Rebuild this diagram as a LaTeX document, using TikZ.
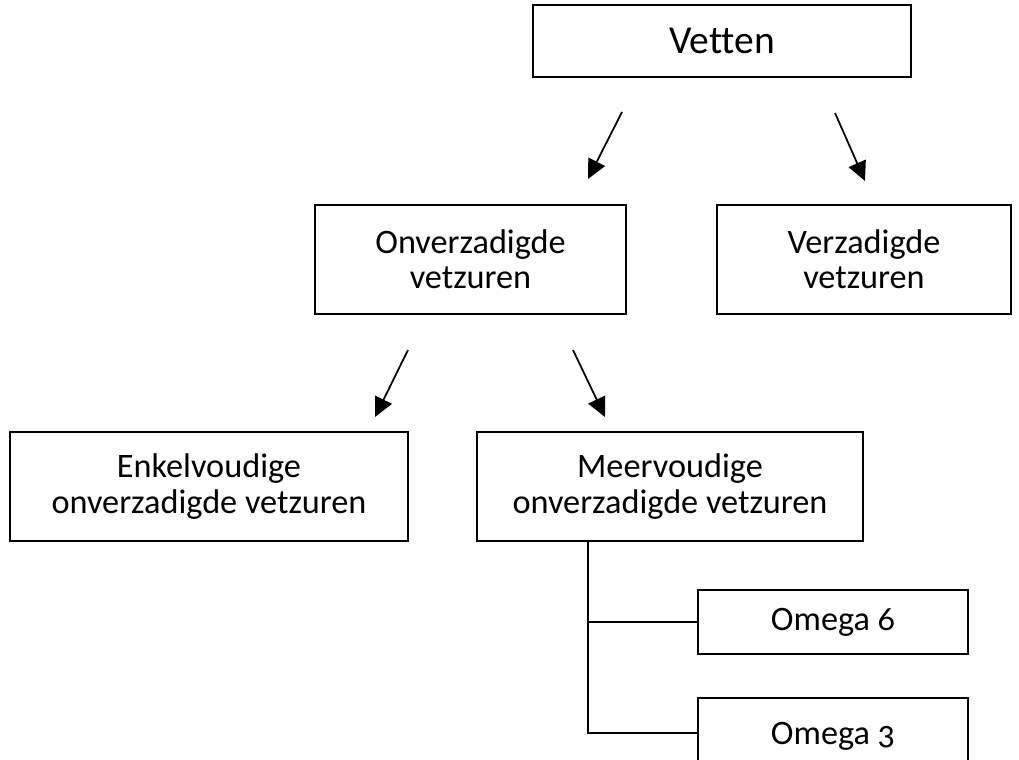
\documentclass[tikz,border=0pt]{standalone}
\usepackage{fontspec}
\setmainfont[Numbers=OldStyle,Ligatures=NoCommon]{Carlito}
\usetikzlibrary{arrows.meta,positioning}

\begin{document}
\begin{tikzpicture}[
    x=0.02cm,y=-0.02cm,
    >={Triangle[length=11pt,width=10.5pt]},
    box/.style={rectangle,draw,line width=1pt,align=center,inner sep=0pt,
      font=\fontsize{19.5}{20}\selectfont},
    arr/.style={->,line width=1pt},
    every node/.style={font=\fontsize{19.5}{20}\selectfont}]
  \useasboundingbox (0,0) rectangle (1019,760);
  \clip (0,0) rectangle (1019,760);
  % ---- boxes ----
  \node[box,minimum width=378*0.02cm,minimum height=72*0.02cm,
    font=\fontsize{22.5}{25}\selectfont] (vetten) at (722,41) {Vetten};
  \node[box,minimum width=311*0.02cm,minimum height=109*0.02cm] (onverz) at (470.5,259.5) {Onverzadigde\\vetzuren};
  \node[box,minimum width=294*0.02cm,minimum height=109*0.02cm] (verz) at (864,259.5) {Verzadigde\\vetzuren};
  \node[box,minimum width=398*0.02cm,minimum height=109*0.02cm] (enkel) at (209,486.5) {Enkelvoudige\\onverzadigde vetzuren};
  \node[box,minimum width=386*0.02cm,minimum height=109*0.02cm] (meer) at (670,486.5) {Meervoudige\\onverzadigde vetzuren};
  \node[box,minimum width=270*0.02cm,minimum height=64*0.02cm] (omega6) at (833,622) {Omega 6};
  \node[box,minimum width=270*0.02cm,minimum height=76*0.02cm] (omega3) at (833,736) {Omega 3};
  % ---- free arrows ----
  \coordinate (a1s) at (622,112); \coordinate (a1e) at (588,179);
  \coordinate (a2s) at (835,113); \coordinate (a2e) at (865,181);
  \coordinate (a3s) at (408,350); \coordinate (a3e) at (375,417);
  \coordinate (a4s) at (573,350); \coordinate (a4e) at (605,417);
  \draw[arr] (a1s) -- (a1e);
  \draw[arr] (a2s) -- (a2e);
  \draw[arr] (a3s) -- (a3e);
  \draw[arr] (a4s) -- (a4e);
  % ---- omega branches ----
  \coordinate (trunk) at (588,541);
  \draw[line width=1pt] (trunk) |- (omega6.west);
  \draw[line width=1pt] (trunk) |- ([yshift=0.06cm]omega3.west);
\end{tikzpicture}
\end{document}
